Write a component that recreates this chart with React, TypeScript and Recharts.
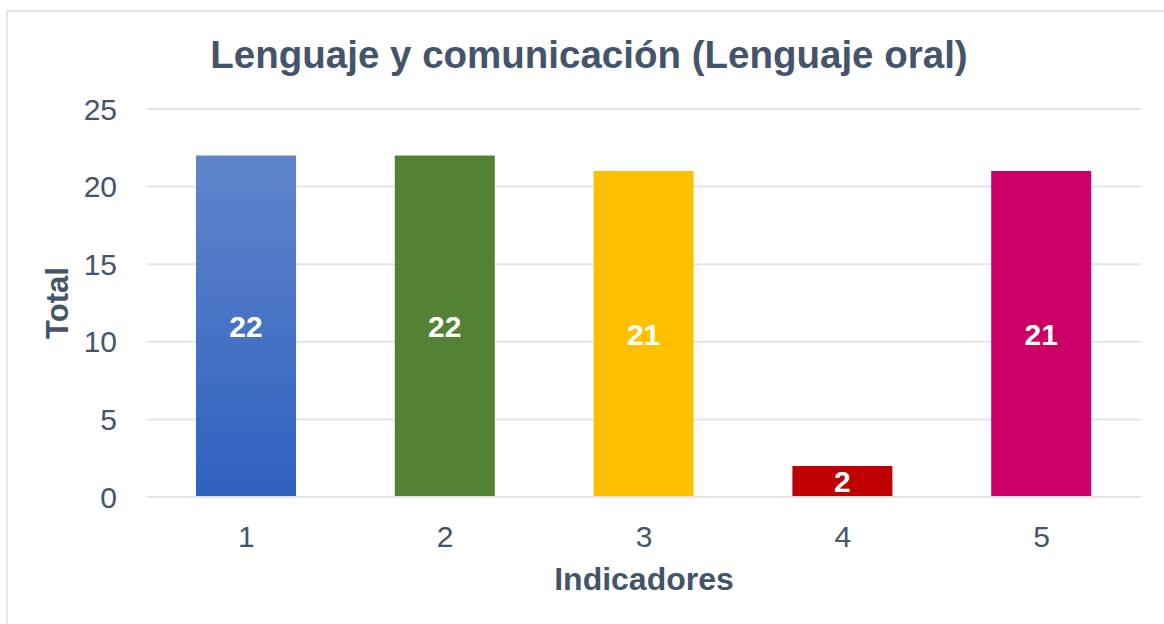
import React from 'react'
import { BarChart, Bar, XAxis, YAxis, CartesianGrid, Cell, LabelList } from 'recharts'

const indicadores = ['1', '2', '3', '4', '5']
const totales = [22, 22, 21, 2, 21]
const colores = ['url(#azul)', '#548235', '#FFC000', '#C00000', '#CC0066']
const yTicks = [0, 5, 10, 15, 20, 25]

const data = indicadores.map((name, i) => ({ name, total: totales[i] }))

const TEXT = '#44546A'
const FONT = 'Arial, "Liberation Sans", sans-serif'

export default function App() {
  return (
    <div style={{ position: 'absolute', left: 0, top: 0, width: 1164, height: 624, background: '#fff', fontFamily: FONT }}>
      <div style={{ position: 'absolute', left: 6, top: 10, width: 1164, height: 624, border: '2px solid #E3E6EB', boxSizing: 'border-box' }} />
      <div style={{ position: 'absolute', left: 0, top: 33, width: 1178, textAlign: 'center', fontSize: 38.5, fontWeight: 'bold', color: TEXT }}>
        Lenguaje y comunicación (Lenguaje oral)
      </div>
      <div style={{ position: 'absolute', left: 148, top: 561, width: 992, textAlign: 'center', fontSize: 32, fontWeight: 'bold', color: TEXT }}>
        Indicadores
      </div>
      <div style={{ position: 'absolute', left: 58, top: 303, transform: 'translate(-50%, -50%) rotate(-90deg)', fontSize: 31, fontWeight: 'bold', color: TEXT, whiteSpace: 'nowrap' }}>
        Total
      </div>
      <div style={{ position: 'absolute', left: 0, top: 0 }}>
        <BarChart width={1164} height={624} data={data} margin={{ top: 109, right: 23, bottom: 0, left: 0 }}>
          <defs>
            <linearGradient id="azul" x1="0" y1="0" x2="0" y2="1">
              <stop offset="0%" stopColor="#6085CC" />
              <stop offset="100%" stopColor="#2E61BF" />
            </linearGradient>
          </defs>
          <CartesianGrid vertical={false} stroke="#E1E5EA" strokeWidth={2} />
          <XAxis
            dataKey="name"
            height={127}
            tickLine={false}
            axisLine={{ stroke: '#E1E5EA', strokeWidth: 2 }}
            tick={{ fill: TEXT, fontSize: 30, fontFamily: FONT }}
            tickMargin={23}
          />
          <YAxis
            width={147}
            domain={[0, 25]}
            ticks={yTicks}
            tickLine={false}
            axisLine={false}
            tick={{ fill: TEXT, fontSize: 30, fontFamily: FONT }}
            tickMargin={24}
          />
          <Bar dataKey="total" barSize={100} isAnimationActive={false}>
            {data.map((d, i) => (
              <Cell key={d.name} fill={colores[i]} />
            ))}
            <LabelList dataKey="total" position="center" fill="#fff" fontSize={30} fontWeight="bold" fontFamily={FONT} />
          </Bar>
        </BarChart>
      </div>
    </div>
  )
}
